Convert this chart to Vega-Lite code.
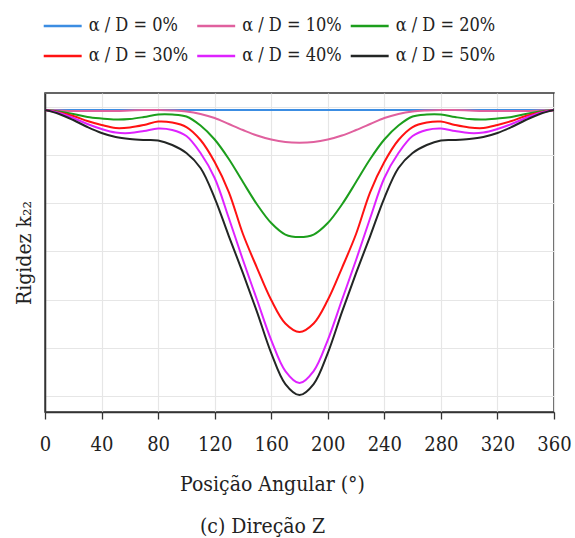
{
"$schema": "https://vega.github.io/schema/vega-lite/v6.json",
"autosize": "none",
"width": 509,
"height": 319,
"padding": {"left": 45, "top": 93, "right": 21, "bottom": 126},
"background": "white",
"title": {"text": "(c) Direção Z", "orient": "bottom", "anchor": "middle", "dx": -37, "offset": 22, "fontSize": 21, "font": "DejaVu Serif Condensed", "fontWeight": "normal", "color": "#222222"},
"data": {"values": [
{"a":0,"s":"α / D = 0%","k":5.927},{"a":10,"s":"α / D = 0%","k":5.927},{"a":20,"s":"α / D = 0%","k":5.927},{"a":30,"s":"α / D = 0%","k":5.927},{"a":40,"s":"α / D = 0%","k":5.927},{"a":50,"s":"α / D = 0%","k":5.927},{"a":60,"s":"α / D = 0%","k":5.927},{"a":70,"s":"α / D = 0%","k":5.927},{"a":80,"s":"α / D = 0%","k":5.927},{"a":90,"s":"α / D = 0%","k":5.927},{"a":100,"s":"α / D = 0%","k":5.927},{"a":110,"s":"α / D = 0%","k":5.927},{"a":120,"s":"α / D = 0%","k":5.927},{"a":130,"s":"α / D = 0%","k":5.927},{"a":140,"s":"α / D = 0%","k":5.927},{"a":150,"s":"α / D = 0%","k":5.927},{"a":160,"s":"α / D = 0%","k":5.927},{"a":170,"s":"α / D = 0%","k":5.927},{"a":180,"s":"α / D = 0%","k":5.927},{"a":190,"s":"α / D = 0%","k":5.927},{"a":200,"s":"α / D = 0%","k":5.927},{"a":210,"s":"α / D = 0%","k":5.927},{"a":220,"s":"α / D = 0%","k":5.927},{"a":230,"s":"α / D = 0%","k":5.927},{"a":240,"s":"α / D = 0%","k":5.927},{"a":250,"s":"α / D = 0%","k":5.927},{"a":260,"s":"α / D = 0%","k":5.927},{"a":270,"s":"α / D = 0%","k":5.927},{"a":280,"s":"α / D = 0%","k":5.927},{"a":290,"s":"α / D = 0%","k":5.927},{"a":300,"s":"α / D = 0%","k":5.927},{"a":310,"s":"α / D = 0%","k":5.927},{"a":320,"s":"α / D = 0%","k":5.927},{"a":330,"s":"α / D = 0%","k":5.927},{"a":340,"s":"α / D = 0%","k":5.927},{"a":350,"s":"α / D = 0%","k":5.927},{"a":360,"s":"α / D = 0%","k":5.927},
{"a":0,"s":"α / D = 10%","k":5.927},{"a":10,"s":"α / D = 10%","k":5.917},{"a":20,"s":"α / D = 10%","k":5.907},{"a":30,"s":"α / D = 10%","k":5.907},{"a":40,"s":"α / D = 10%","k":5.907},{"a":50,"s":"α / D = 10%","k":5.907},{"a":60,"s":"α / D = 10%","k":5.917},{"a":70,"s":"α / D = 10%","k":5.927},{"a":80,"s":"α / D = 10%","k":5.927},{"a":90,"s":"α / D = 10%","k":5.917},{"a":100,"s":"α / D = 10%","k":5.896},{"a":110,"s":"α / D = 10%","k":5.845},{"a":120,"s":"α / D = 10%","k":5.762},{"a":130,"s":"α / D = 10%","k":5.637},{"a":140,"s":"α / D = 10%","k":5.513},{"a":150,"s":"α / D = 10%","k":5.399},{"a":160,"s":"α / D = 10%","k":5.316},{"a":170,"s":"α / D = 10%","k":5.264},{"a":180,"s":"α / D = 10%","k":5.25},{"a":190,"s":"α / D = 10%","k":5.264},{"a":200,"s":"α / D = 10%","k":5.316},{"a":210,"s":"α / D = 10%","k":5.399},{"a":220,"s":"α / D = 10%","k":5.513},{"a":230,"s":"α / D = 10%","k":5.637},{"a":240,"s":"α / D = 10%","k":5.762},{"a":250,"s":"α / D = 10%","k":5.845},{"a":260,"s":"α / D = 10%","k":5.896},{"a":270,"s":"α / D = 10%","k":5.917},{"a":280,"s":"α / D = 10%","k":5.927},{"a":290,"s":"α / D = 10%","k":5.927},{"a":300,"s":"α / D = 10%","k":5.917},{"a":310,"s":"α / D = 10%","k":5.907},{"a":320,"s":"α / D = 10%","k":5.907},{"a":330,"s":"α / D = 10%","k":5.907},{"a":340,"s":"α / D = 10%","k":5.907},{"a":350,"s":"α / D = 10%","k":5.917},{"a":360,"s":"α / D = 10%","k":5.927},
{"a":0,"s":"α / D = 20%","k":5.927},{"a":10,"s":"α / D = 20%","k":5.896},{"a":20,"s":"α / D = 20%","k":5.845},{"a":30,"s":"α / D = 20%","k":5.782},{"a":40,"s":"α / D = 20%","k":5.751},{"a":50,"s":"α / D = 20%","k":5.731},{"a":60,"s":"α / D = 20%","k":5.741},{"a":70,"s":"α / D = 20%","k":5.782},{"a":80,"s":"α / D = 20%","k":5.834},{"a":90,"s":"α / D = 20%","k":5.834},{"a":100,"s":"α / D = 20%","k":5.793},{"a":110,"s":"α / D = 20%","k":5.606},{"a":120,"s":"α / D = 20%","k":5.316},{"a":130,"s":"α / D = 20%","k":4.912},{"a":140,"s":"α / D = 20%","k":4.435},{"a":150,"s":"α / D = 20%","k":3.969},{"a":160,"s":"α / D = 20%","k":3.585},{"a":170,"s":"α / D = 20%","k":3.347},{"a":180,"s":"α / D = 20%","k":3.295},{"a":190,"s":"α / D = 20%","k":3.347},{"a":200,"s":"α / D = 20%","k":3.585},{"a":210,"s":"α / D = 20%","k":3.969},{"a":220,"s":"α / D = 20%","k":4.435},{"a":230,"s":"α / D = 20%","k":4.912},{"a":240,"s":"α / D = 20%","k":5.316},{"a":250,"s":"α / D = 20%","k":5.606},{"a":260,"s":"α / D = 20%","k":5.793},{"a":270,"s":"α / D = 20%","k":5.834},{"a":280,"s":"α / D = 20%","k":5.834},{"a":290,"s":"α / D = 20%","k":5.782},{"a":300,"s":"α / D = 20%","k":5.741},{"a":310,"s":"α / D = 20%","k":5.731},{"a":320,"s":"α / D = 20%","k":5.751},{"a":330,"s":"α / D = 20%","k":5.782},{"a":340,"s":"α / D = 20%","k":5.845},{"a":350,"s":"α / D = 20%","k":5.896},{"a":360,"s":"α / D = 20%","k":5.927},
{"a":0,"s":"α / D = 30%","k":5.927},{"a":10,"s":"α / D = 30%","k":5.876},{"a":20,"s":"α / D = 30%","k":5.803},{"a":30,"s":"α / D = 30%","k":5.699},{"a":40,"s":"α / D = 30%","k":5.617},{"a":50,"s":"α / D = 30%","k":5.554},{"a":60,"s":"α / D = 30%","k":5.565},{"a":70,"s":"α / D = 30%","k":5.617},{"a":80,"s":"α / D = 30%","k":5.689},{"a":90,"s":"α / D = 30%","k":5.668},{"a":100,"s":"α / D = 30%","k":5.575},{"a":110,"s":"α / D = 30%","k":5.306},{"a":120,"s":"α / D = 30%","k":4.85},{"a":130,"s":"α / D = 30%","k":4.228},{"a":140,"s":"α / D = 30%","k":3.358},{"a":150,"s":"α / D = 30%","k":2.653},{"a":160,"s":"α / D = 30%","k":1.99},{"a":170,"s":"α / D = 30%","k":1.503},{"a":180,"s":"α / D = 30%","k":1.326},{"a":190,"s":"α / D = 30%","k":1.503},{"a":200,"s":"α / D = 30%","k":1.99},{"a":210,"s":"α / D = 30%","k":2.653},{"a":220,"s":"α / D = 30%","k":3.358},{"a":230,"s":"α / D = 30%","k":4.228},{"a":240,"s":"α / D = 30%","k":4.85},{"a":250,"s":"α / D = 30%","k":5.306},{"a":260,"s":"α / D = 30%","k":5.575},{"a":270,"s":"α / D = 30%","k":5.668},{"a":280,"s":"α / D = 30%","k":5.689},{"a":290,"s":"α / D = 30%","k":5.617},{"a":300,"s":"α / D = 30%","k":5.565},{"a":310,"s":"α / D = 30%","k":5.554},{"a":320,"s":"α / D = 30%","k":5.617},{"a":330,"s":"α / D = 30%","k":5.699},{"a":340,"s":"α / D = 30%","k":5.803},{"a":350,"s":"α / D = 30%","k":5.876},{"a":360,"s":"α / D = 30%","k":5.927},
{"a":0,"s":"α / D = 40%","k":5.927},{"a":10,"s":"α / D = 40%","k":5.865},{"a":20,"s":"α / D = 40%","k":5.762},{"a":30,"s":"α / D = 40%","k":5.637},{"a":40,"s":"α / D = 40%","k":5.534},{"a":50,"s":"α / D = 40%","k":5.461},{"a":60,"s":"α / D = 40%","k":5.451},{"a":70,"s":"α / D = 40%","k":5.492},{"a":80,"s":"α / D = 40%","k":5.544},{"a":90,"s":"α / D = 40%","k":5.513},{"a":100,"s":"α / D = 40%","k":5.389},{"a":110,"s":"α / D = 40%","k":5.036},{"a":120,"s":"α / D = 40%","k":4.518},{"a":130,"s":"α / D = 40%","k":3.689},{"a":140,"s":"α / D = 40%","k":2.819},{"a":150,"s":"α / D = 40%","k":1.99},{"a":160,"s":"α / D = 40%","k":1.161},{"a":170,"s":"α / D = 40%","k":0.518},{"a":180,"s":"α / D = 40%","k":0.269},{"a":190,"s":"α / D = 40%","k":0.518},{"a":200,"s":"α / D = 40%","k":1.161},{"a":210,"s":"α / D = 40%","k":1.99},{"a":220,"s":"α / D = 40%","k":2.819},{"a":230,"s":"α / D = 40%","k":3.689},{"a":240,"s":"α / D = 40%","k":4.518},{"a":250,"s":"α / D = 40%","k":5.036},{"a":260,"s":"α / D = 40%","k":5.389},{"a":270,"s":"α / D = 40%","k":5.513},{"a":280,"s":"α / D = 40%","k":5.544},{"a":290,"s":"α / D = 40%","k":5.492},{"a":300,"s":"α / D = 40%","k":5.451},{"a":310,"s":"α / D = 40%","k":5.461},{"a":320,"s":"α / D = 40%","k":5.534},{"a":330,"s":"α / D = 40%","k":5.637},{"a":340,"s":"α / D = 40%","k":5.762},{"a":350,"s":"α / D = 40%","k":5.865},{"a":360,"s":"α / D = 40%","k":5.927},
{"a":0,"s":"α / D = 50%","k":5.927},{"a":10,"s":"α / D = 50%","k":5.845},{"a":20,"s":"α / D = 50%","k":5.72},{"a":30,"s":"α / D = 50%","k":5.575},{"a":40,"s":"α / D = 50%","k":5.451},{"a":50,"s":"α / D = 50%","k":5.368},{"a":60,"s":"α / D = 50%","k":5.326},{"a":70,"s":"α / D = 50%","k":5.306},{"a":80,"s":"α / D = 50%","k":5.296},{"a":90,"s":"α / D = 50%","k":5.202},{"a":100,"s":"α / D = 50%","k":5.036},{"a":110,"s":"α / D = 50%","k":4.725},{"a":120,"s":"α / D = 50%","k":4.104},{"a":130,"s":"α / D = 50%","k":3.316},{"a":140,"s":"α / D = 50%","k":2.549},{"a":150,"s":"α / D = 50%","k":1.741},{"a":160,"s":"α / D = 50%","k":0.891},{"a":170,"s":"α / D = 50%","k":0.249},{"a":180,"s":"α / D = 50%","k":0.021},{"a":190,"s":"α / D = 50%","k":0.249},{"a":200,"s":"α / D = 50%","k":0.891},{"a":210,"s":"α / D = 50%","k":1.741},{"a":220,"s":"α / D = 50%","k":2.549},{"a":230,"s":"α / D = 50%","k":3.316},{"a":240,"s":"α / D = 50%","k":4.104},{"a":250,"s":"α / D = 50%","k":4.725},{"a":260,"s":"α / D = 50%","k":5.036},{"a":270,"s":"α / D = 50%","k":5.202},{"a":280,"s":"α / D = 50%","k":5.296},{"a":290,"s":"α / D = 50%","k":5.306},{"a":300,"s":"α / D = 50%","k":5.326},{"a":310,"s":"α / D = 50%","k":5.368},{"a":320,"s":"α / D = 50%","k":5.451},{"a":330,"s":"α / D = 50%","k":5.575},{"a":340,"s":"α / D = 50%","k":5.72},{"a":350,"s":"α / D = 50%","k":5.845},{"a":360,"s":"α / D = 50%","k":5.927}
]},
"mark": {"type": "line", "interpolate": "catmull-rom", "strokeWidth": 2, "clip": true},
"encoding": {
  "x": {"field": "a", "type": "quantitative", "scale": {"domain": [0, 360], "nice": false, "zero": false},
    "axis": {"values": [0,40,80,120,160,200,240,280,320,360], "title": "Posição Angular (°)", "titleX": 227, "titleY": 78, "titleBaseline": "alphabetic", "titleAlign": "center", "titleFontSize": 21, "labelFontSize": 20, "labelBaseline": "alphabetic", "labelPadding": 31, "tickSize": 7, "labelFlush": false}},
  "y": {"field": "k", "type": "quantitative", "scale": {"domain": [-0.33, 6.28], "nice": false, "zero": false},
    "axis": {"values": [0,1,2,3,4,5,6], "labels": false, "ticks": false, "title": "Rigidez k₂₂", "titleX": -15, "titleY": 159.5, "titleBaseline": "alphabetic", "titleAlign": "center", "titleAngle": 270, "titleFontSize": 21}},
  "color": {"field": "s", "type": "nominal",
    "scale": {"domain": ["α / D = 0%","α / D = 10%","α / D = 20%","α / D = 30%","α / D = 40%","α / D = 50%"], "range": ["#3C8DE2","#E0609E","#1C9E1C","#FF1212","#DE22FF","#232625"]},
    "legend": {"orient": "none", "legendX": 8.7, "legendY": -76, "columns": 3, "direction": "horizontal", "gridAlign": "all", "columnPadding": 3.5, "rowPadding": 12, "symbolType": "M-3,0H3", "symbolSize": 160, "symbolStrokeWidth": 2.5, "labelFontSize": 18, "labelOffset": 17, "labelLimit": 300, "title": null, "padding": 0}}
},
"config": {
  "font": "DejaVu Serif Condensed",
  "view": {"stroke": "#333333", "strokeWidth": 1.5},
  "axis": {"labelFont": "DejaVu Serif Condensed", "titleFont": "DejaVu Serif Condensed", "labelColor": "#222222", "titleColor": "#222222", "titleFontWeight": "normal", "gridColor": "#e6e6e6", "gridWidth": 1.2, "domainColor": "#333333", "domainWidth": 1.5, "tickColor": "#333333", "tickWidth": 1.3},
  "legend": {"labelFont": "DejaVu Serif Condensed", "labelColor": "#222222"}
}
}
